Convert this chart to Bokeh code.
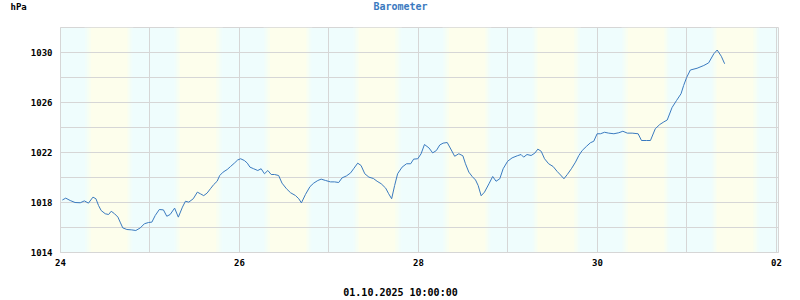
from bokeh.plotting import figure
from bokeh.layouts import column
from bokeh.models import FixedTicker, Range1d
from bokeh.core.properties import value
from bokeh.embed import file_html
from bokeh.resources import INLINE

# hours since 24.09.2025 00:00
hours = [0.5, 1.4, 2.6, 3.9, 5.3, 6.4, 7.5, 8.7, 9.5, 10.2, 10.9, 12.0, 12.9, 13.6, 14.5,
         15.4, 16.0, 16.7, 17.8, 19.1, 20.2, 21.4, 22.5, 23.6, 24.5, 25.4, 26.5, 27.6,
         28.5, 29.4, 30.6, 31.6, 32.7, 33.5, 34.4, 35.6, 36.7, 37.5, 38.4, 39.3, 40.2,
         41.1, 42.0, 42.7, 43.6, 44.7, 45.6, 46.7, 47.5, 48.3, 49.3, 50.1, 50.8, 51.8,
         52.9, 53.8, 54.7, 55.6, 56.5, 57.4, 58.5, 59.4, 60.6, 61.7, 63.0, 63.9, 64.6,
         65.7, 66.9, 67.9, 69.0, 69.9, 71.1, 72.4, 73.5, 74.6, 75.5, 76.7, 77.8, 78.6,
         79.7, 80.6, 81.6, 82.7, 83.9, 84.9, 86.0, 87.2, 88.0, 88.8, 89.6, 90.4, 91.6,
         92.8, 93.9, 94.7, 95.8, 96.7, 97.6, 98.8, 99.8, 100.8, 101.7, 102.6, 103.7,
         104.8, 105.7, 106.8, 107.9, 108.6, 109.5, 110.4, 111.3, 112.0, 112.8, 113.7,
         114.9, 115.9, 116.8, 117.8, 118.7, 119.9, 121.1, 122.5, 123.5, 124.2, 125.1,
         126.2, 127.2, 128.0, 128.9, 129.8, 130.9, 132.1, 133.2, 134.1, 135.0, 135.9,
         137.0, 138.1, 139.0, 139.9, 141.0, 142.1, 143.0, 143.9, 144.8, 145.9, 147.0,
         148.4, 149.7, 150.8, 152.0, 153.3, 154.9, 155.8, 157.1, 158.2, 159.5, 160.7,
         161.8, 162.7, 164.0, 165.2, 166.4, 167.1, 167.9, 168.9, 170.7, 172.5, 173.8,
         175.2, 176.1, 177.2, 178.1]
hpa = [1018.20, 1018.35, 1018.16, 1018.00, 1017.98, 1018.13, 1017.95, 1018.43, 1018.30,
       1017.76, 1017.36, 1017.10, 1017.04, 1017.30, 1017.10, 1016.83, 1016.43, 1015.97,
       1015.84, 1015.81, 1015.76, 1015.97, 1016.30, 1016.40, 1016.43, 1016.96, 1017.44,
       1017.41, 1016.90, 1017.04, 1017.55, 1016.83, 1017.63, 1018.10, 1018.03, 1018.30,
       1018.83, 1018.70, 1018.55, 1018.75, 1019.10, 1019.44, 1019.70, 1020.16, 1020.43,
       1020.64, 1020.88, 1021.17, 1021.40, 1021.50, 1021.36, 1021.15, 1020.83, 1020.70,
       1020.56, 1020.70, 1020.30, 1020.56, 1020.24, 1020.24, 1020.16, 1019.55, 1019.10,
       1018.78, 1018.56, 1018.30, 1017.97, 1018.65, 1019.27, 1019.55, 1019.76, 1019.87,
       1019.76, 1019.65, 1019.65, 1019.60, 1019.97, 1020.13, 1020.37, 1020.70, 1021.15,
       1020.96, 1020.30, 1020.03, 1019.92, 1019.70, 1019.50, 1019.15, 1018.70, 1018.30,
       1019.36, 1020.30, 1020.83, 1021.10, 1021.10, 1021.47, 1021.50, 1021.90, 1022.64,
       1022.37, 1021.97, 1022.16, 1022.60, 1022.75, 1022.80, 1022.20, 1021.70, 1021.90,
       1021.74, 1021.10, 1020.43, 1020.08, 1019.80, 1019.36, 1018.54, 1018.83, 1019.50,
       1020.08, 1019.70, 1019.90, 1020.70, 1021.30, 1021.57, 1021.74, 1021.84, 1021.63,
       1021.84, 1021.76, 1021.95, 1022.27, 1022.10, 1021.50, 1021.10, 1020.88, 1020.48,
       1020.20, 1019.90, 1020.24, 1020.70, 1021.23, 1021.76, 1022.16, 1022.48, 1022.78,
       1022.90, 1023.50, 1023.50, 1023.62, 1023.55, 1023.50, 1023.58, 1023.70, 1023.55,
       1023.55, 1023.50, 1022.96, 1022.96, 1022.96, 1023.90, 1024.24, 1024.45, 1024.60,
       1025.60, 1026.16, 1026.70, 1027.36, 1028.00, 1028.60, 1028.74, 1028.96, 1029.17,
       1029.90, 1030.20, 1029.70, 1029.10]

x_ticks = [0, 48, 96, 144, 192]
x_tick_labels = ["24", "26", "28", "30", "02"]
x_grid = [0, 24, 48, 72, 96, 120, 144, 168, 192]
y_ticks = [1014, 1018, 1022, 1026, 1030]
y_grid = [1014, 1016, 1018, 1020, 1022, 1024, 1026, 1028, 1030, 1032]
title_text = "Barometer"
unit_text = "hPa"
stamp_text = "01.10.2025 10:00:00"
n_days = 9
sunrise = 7.25
sunset = 18.7
twilight = 1.6

NIGHT = (239, 253, 253)
DAY = (253, 254, 236)
FONT = "DejaVu Sans Mono"
GRID = "#d6d6d6"
LINE = "#3a7abf"


def mix(t):
    c = tuple(int(round(NIGHT[i] + (DAY[i] - NIGHT[i]) * t)) for i in range(3))
    return "#%02x%02x%02x" % c


def text_strip(height):
    f = figure(width=800, height=height, output_backend="svg", toolbar_location=None,
               x_range=Range1d(0, 800), y_range=Range1d(0, height),
               x_axis_type=None, y_axis_type=None,
               min_border=0, min_border_left=0, min_border_right=0,
               min_border_top=0, min_border_bottom=0)
    f.frame_align = False
    f.grid.visible = False
    f.outline_line_color = None
    f.background_fill_color = "white"
    f.border_fill_color = "white"
    return f


# header: unit and title
head = text_strip(26)
head.text(x=[10], y=[20], text=[unit_text], text_align="left", text_baseline="middle",
          text_font=value(FONT), text_font_style="bold", text_font_size="9px",
          text_color="black")
head.text(x=[400], y=[20], text=[title_text], text_align="center", text_baseline="middle",
          text_font=value(FONT), text_font_style="bold", text_font_size="10px",
          text_color=LINE)

# main chart
p = figure(width=800, height=244, output_backend="svg", toolbar_location=None,
           x_range=Range1d(0, 192.54), y_range=Range1d(1014, 1032),
           min_border_left=60, min_border_right=22, min_border_top=1, min_border_bottom=18)
p.frame_align = False
p.background_fill_color = mix(0.0)
p.border_fill_color = "white"
p.outline_line_color = GRID
p.outline_line_width = 1

L, R, C = [], [], []
steps = 8
for d in range(n_days):
    base = 24 * d
    sr0 = base + sunrise - twilight / 2
    ss0 = base + sunset - twilight / 2
    for k in range(steps):
        a = sr0 + twilight * k / steps
        L.append(a); R.append(a + twilight / steps); C.append(mix((k + 0.5) / steps))
    L.append(base + sunrise + twilight / 2); R.append(ss0); C.append(mix(1.0))
    for k in range(steps):
        a = ss0 + twilight * k / steps
        L.append(a); R.append(a + twilight / steps); C.append(mix(1 - (k + 0.5) / steps))
bands = p.quad(left=L, right=R, bottom=1014, top=1032, fill_color=C, line_color=None)
bands.level = "image"

p.line(hours, hpa, line_color=LINE, line_width=1)

p.xaxis.ticker = FixedTicker(ticks=x_ticks)
p.xaxis.major_label_overrides = {t: s for t, s in zip(x_ticks, x_tick_labels)}
p.yaxis.ticker = FixedTicker(ticks=y_ticks)
p.xgrid.ticker = FixedTicker(ticks=x_grid)
p.ygrid.ticker = FixedTicker(ticks=y_grid)
for g in (p.xgrid, p.ygrid):
    g.grid_line_color = GRID
    g.grid_line_width = 1

for ax in (p.xaxis, p.yaxis):
    ax.axis_line_color = GRID
    ax.major_tick_line_color = None
    ax.minor_tick_line_color = None
    ax.major_tick_out = 0
    ax.major_tick_in = 0
    ax.major_label_text_font = FONT
    ax.major_label_text_font_style = "bold"
    ax.major_label_text_font_size = "9px"
    ax.major_label_text_color = "black"
p.xaxis.major_label_standoff = 6
p.yaxis.major_label_standoff = 8

# footer: timestamp
foot = text_strip(30)
foot.text(x=[400], y=[8], text=[stamp_text], text_align="center", text_baseline="middle",
          text_font=value(FONT), text_font_style="bold", text_font_size="10px",
          text_color="black")

layout = column(head, p, foot, spacing=0)
open("out.html", "w").write(file_html(layout, INLINE))
